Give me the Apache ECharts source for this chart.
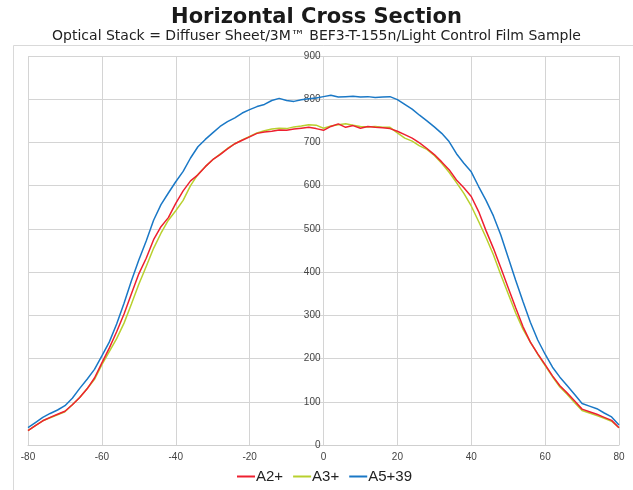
<!DOCTYPE html>
<html>
<head>
<meta charset="utf-8">
<script src="https://cdn.jsdelivr.net/npm/echarts@6/dist/echarts.min.js"></script>
<style>html,body{margin:0;padding:0;background:#fff;}#c{width:633px;height:490px;}</style>
</head>
<body>
<div id="c"></div>
<script>
const xValues = [-80,-78,-76,-74,-72,-70,-68,-66,-64,-62,-60,-58,-56,-54,-52,-50,-48,-46,-44,-42,-40,-38,-36,-34,-32,-30,-28,-26,-24,-22,-20,-18,-16,-14,-12,-10,-8,-6,-4,-2,0,2,4,6,8,10,12,14,16,18,20,22,24,26,28,30,32,34,36,38,40,42,44,46,48,50,52,54,56,58,60,62,64,66,68,70,72,74,76,78,80];
const a2 = [33,45,56,64,71,78,93,110,130,155,190,224,262,303,350,396,432,475,505,526,559,588,611,625,644,660,672,685,697,705,713,721,724,726,729,728,731,733,735,732,728,737,743,735,739,733,737,735,734,732,726,718,710,699,686,672,655,637,613,595,575,540,496,455,410,364,318,274,238,211,186,160,137,120,102,83,77,71,64,57,40];
const a3 = [33,45,56,63,70,77,93,110,130,152,186,216,246,282,326,372,413,455,490,520,542,566,600,626,644,660,673,686,697,706,714,722,727,731,733,732,736,738,741,740,733,738,741,743,740,737,736,737,735,735,722,710,703,692,684,670,652,631,607,582,553,517,480,440,394,350,306,268,238,210,184,158,134,117,98,80,74,68,62,55,40];
const a5 = [40,52,64,73,81,91,108,131,152,175,206,238,280,328,380,428,472,520,556,583,609,633,664,690,707,722,737,748,757,768,776,783,788,797,802,797,795,799,801,803,806,809,805,806,807,805,806,804,805,806,799,788,777,763,750,736,721,702,674,652,632,598,566,530,486,434,382,332,284,243,210,180,157,137,117,96,90,84,74,65,46];
const seriesNames = ['A2+','A3+','A5+39'];
const xTicks = {min:-80, max:80, interval:20};
const yTicks = {min:0, max:900, interval:100};

const colors = ['#ee2030','#b8d02e','#1a78c6'];
const pairs = arr => xValues.map((x,i)=>[x,arr[i]]);
const chart = echarts.init(document.getElementById('c'), null, {renderer:'canvas'});
const tfont = '"DejaVu Sans", sans-serif';
const font = '"Liberation Sans", Arial, sans-serif';
const gridLeft = 28, gridRight = 14;
const plotW = 633 - gridLeft - gridRight;
const zeroOffset = -plotW * (0 - xTicks.min) / (xTicks.max - xTicks.min);
chart.setOption({
  animation:false,
  backgroundColor:'#fff',
  title:[
    {text:'Horizontal Cross Section', left:'center', top:2, textStyle:{fontFamily:tfont, fontWeight:'bold', fontSize:21, color:'#1a1a1a'}},
    {text:'Optical Stack = Diffuser Sheet/3M™ BEF3-T-155n/Light Control Film Sample', left:'center', top:24, textStyle:{fontFamily:tfont, fontWeight:'normal', fontSize:14, color:'#222'}}
  ],
  graphic:[{type:'rect', shape:{x:13.5,y:45.5,width:640,height:460}, style:{fill:'none', stroke:'#d9d9d9', lineWidth:1}, z:-1}],
  grid:{left:gridLeft, right:gridRight, top:56, bottom:45},
  legend:{bottom:6, left:237, padding:0, icon:'rect', itemWidth:18, itemHeight:2, itemGap:10,
    textStyle:{fontFamily:font, fontSize:15, color:'#222', padding:[0,0,0,-4]}, data:seriesNames},
  xAxis:{type:'value', min:xTicks.min, max:xTicks.max, interval:xTicks.interval,
    axisLine:{show:true, onZero:false, lineStyle:{color:'#cfcfcf'}}, axisTick:{show:false},
    axisLabel:{fontFamily:font, fontSize:10, color:'#444', margin:7},
    splitLine:{show:true, lineStyle:{color:'#d4d4d4'}}},
  yAxis:{type:'value', position:'left', offset:zeroOffset, min:yTicks.min, max:yTicks.max, interval:yTicks.interval,
    axisLine:{show:false}, axisTick:{show:false},
    axisLabel:{fontFamily:font, fontSize:10, color:'#444', margin:3},
    splitLine:{show:true, lineStyle:{color:'#d4d4d4'}}},
  series:[a2,a3,a5].map((arr,i)=>({
    name:seriesNames[i], type:'line', data:pairs(arr), showSymbol:false, symbol:'none',
    lineStyle:{width:1.5, color:colors[i]}, itemStyle:{color:colors[i]}, z: i===0?4:(i===1?3:2)
  }))
});
</script>
</body>
</html>
